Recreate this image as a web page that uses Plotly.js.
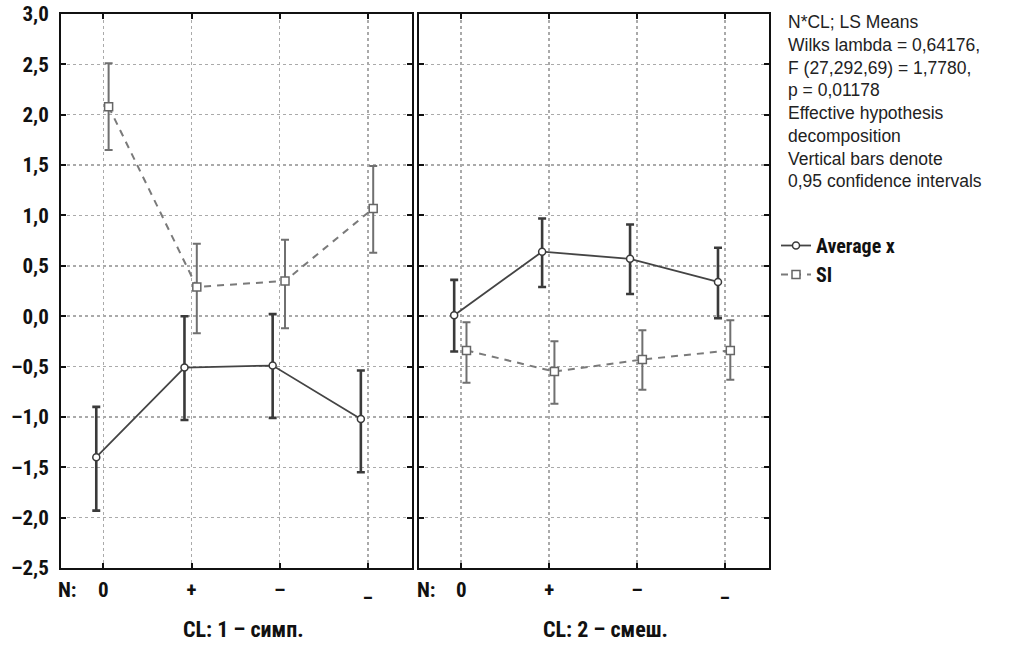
<!DOCTYPE html>
<html>
<head>
<meta charset="utf-8">
<script src="https://cdn.plot.ly/plotly-3.0.1.min.js"></script>
<style>html,body{margin:0;padding:0;background:#fff;}#chart{width:1028px;height:646px;}</style>
</head>
<body>
<div id="chart"></div>
<script>
// Categories (N levels) and tick labels
const categories = ['0', '+', '–', '_'];
const yTickVals = [-2.5, -2.0, -1.5, -1.0, -0.5, 0, 0.5, 1.0, 1.5, 2.0, 2.5, 3.0];
const yTickText = ['–2,5', '–2,0', '–1,5', '–1,0', '–0,5', '0,0', '0,5', '1,0', '1,5', '2,0', '2,5', '3,0'];
const panelTitles = ['CL: 1 – симп.', 'CL: 2 – смеш.'];
const seriesNames = ['Average x', 'SI'];

// CL 1 – симп.
const cl1AvgMean = [-1.40, -0.51, -0.49, -1.02];
const cl1AvgUpper = [-0.90, 0.00, 0.02, -0.54];
const cl1AvgLower = [-1.93, -1.03, -1.01, -1.55];
const cl1SiMean = [2.08, 0.29, 0.35, 1.07];
const cl1SiUpper = [2.51, 0.72, 0.76, 1.49];
const cl1SiLower = [1.65, -0.17, -0.12, 0.63];

// CL 2 – смеш.
const cl2AvgMean = [0.01, 0.64, 0.57, 0.34];
const cl2AvgUpper = [0.36, 0.97, 0.91, 0.68];
const cl2AvgLower = [-0.35, 0.29, 0.22, -0.02];
const cl2SiMean = [-0.34, -0.55, -0.43, -0.34];
const cl2SiUpper = [-0.06, -0.25, -0.14, -0.04];
const cl2SiLower = [-0.66, -0.87, -0.73, -0.63];

const statsText = 'N*CL; LS Means<br>Wilks lambda = 0,64176,<br>F (27,292,69) = 1,7780,<br>p = 0,01178<br>Effective hypothesis<br>decomposition<br>Vertical bars denote<br>0,95 confidence intervals';

const boldFont = '"Liberation Sans Narrow", "Arial Narrow", "Roboto Condensed", Roboto, sans-serif';
const AVG_SHIFT = -0.08, SI_SHIFT = 0.06;

function pos(shift) { return categories.map((c, i) => i + shift); }
function diff(a, b) { return a.map((v, i) => +(v - b[i]).toFixed(3)); }

function avgTrace(mean, up, lo, xa, ya, show) {
  return {
    x: pos(AVG_SHIFT), y: mean, xaxis: xa, yaxis: ya, name: seriesNames[0], showlegend: show,
    type: 'scatter', mode: 'lines+markers',
    line: {color: '#444', width: 1.8},
    marker: {symbol: 'circle', size: 7, color: '#ffffff', line: {color: '#3a3a3a', width: 1.5}},
    error_y: {type: 'data', symmetric: false, array: diff(up, mean), arrayminus: diff(mean, lo),
      color: '#3a3a3a', thickness: 2.6, width: 4}
  };
}
function siTrace(mean, up, lo, xa, ya, show) {
  return {
    x: pos(SI_SHIFT), y: mean, xaxis: xa, yaxis: ya, name: seriesNames[1], showlegend: show,
    type: 'scatter', mode: 'lines+markers',
    line: {color: '#7a7a7a', width: 2, dash: '7px,6px'},
    marker: {symbol: 'square', size: 8, color: '#ffffff', line: {color: '#666', width: 1.5}},
    error_y: {type: 'data', symmetric: false, array: diff(up, mean), arrayminus: diff(mean, lo),
      color: '#707070', thickness: 2, width: 4}
  };
}

const data = [
  avgTrace(cl1AvgMean, cl1AvgUpper, cl1AvgLower, 'x', 'y', true),
  siTrace(cl1SiMean, cl1SiUpper, cl1SiLower, 'x', 'y', true),
  avgTrace(cl2AvgMean, cl2AvgUpper, cl2AvgLower, 'x2', 'y2', false),
  siTrace(cl2SiMean, cl2SiUpper, cl2SiLower, 'x2', 'y2', false)
];

const W = 1028, H = 646;
const tickFont = {family: boldFont, size: 21, color: '#111', weight: 'bold'};
const titleFont = {family: boldFont, size: 22, color: '#111', weight: 'bold'};
const xAxisCommon = {
  range: [-0.48, 3.5], tickvals: categories.map((c, i) => i), ticktext: categories,
  showgrid: true, gridcolor: '#aaaaaa', gridwidth: 1.5, griddash: 'dot',
  showline: true, linecolor: '#111', linewidth: 2, mirror: 'ticks',
  ticks: 'inside', ticklen: 5, tickwidth: 2, tickcolor: '#111',
  tickfont: tickFont, ticklabelstandoff: 2,
  zeroline: false, fixedrange: true
};
const yAxisCommon = {
  range: [-2.5, 3.0], tickvals: yTickVals, ticktext: yTickText,
  showgrid: true, gridcolor: '#aaaaaa', gridwidth: 1.5, griddash: 'dot',
  showline: true, linecolor: '#111', linewidth: 2, mirror: 'ticks',
  ticks: 'inside', ticklen: 5, tickwidth: 2, tickcolor: '#111',
  tickfont: tickFont, ticklabelstandoff: 6,
  zeroline: false, fixedrange: true, domain: [(H - 568) / H, (H - 14) / H]
};

const layout = {
  width: W, height: H,
  margin: {l: 0, r: 0, t: 0, b: 0},
  paper_bgcolor: '#fff', plot_bgcolor: '#fff',
  showlegend: true,
  xaxis: Object.assign({}, xAxisCommon, {domain: [61 / W, 412 / W], anchor: 'y'}),
  xaxis2: Object.assign({}, xAxisCommon, {domain: [419 / W, 769 / W], anchor: 'y2'}),
  yaxis: Object.assign({}, yAxisCommon, {anchor: 'x'}),
  yaxis2: Object.assign({}, yAxisCommon, {anchor: 'x2', showticklabels: false}),
  legend: {
    x: 776 / W, y: 1 - 226 / H, xanchor: 'left', yanchor: 'top',
    font: {family: boldFont, size: 20, color: '#111', weight: 'bold'},
    bgcolor: 'rgba(0,0,0,0)', itemwidth: 30, tracegroupgap: 0
  },
  annotations: [
    {text: statsText, xref: 'paper', yref: 'paper', x: 786 / W, y: 1 - 10 / H, xanchor: 'left', yanchor: 'top',
     align: 'left', showarrow: false, font: {family: '"Liberation Sans", Arial, sans-serif', size: 17.5, color: '#222'}},
    {text: 'N:', xref: 'paper', yref: 'paper', x: 67 / W, y: 1 - 590 / H, xanchor: 'center', yanchor: 'middle',
     showarrow: false, font: tickFont},
    {text: 'N:', xref: 'paper', yref: 'paper', x: 426 / W, y: 1 - 590 / H, xanchor: 'center', yanchor: 'middle',
     showarrow: false, font: tickFont},
    {text: panelTitles[0], xref: 'paper', yref: 'paper', x: 243 / W, y: 1 - 629 / H, xanchor: 'center', yanchor: 'middle',
     showarrow: false, font: titleFont},
    {text: panelTitles[1], xref: 'paper', yref: 'paper', x: 605 / W, y: 1 - 629 / H, xanchor: 'center', yanchor: 'middle',
     showarrow: false, font: titleFont}
  ]
};

Plotly.newPlot('chart', data, layout, {displayModeBar: false, staticPlot: true});
</script>
</body>
</html>
